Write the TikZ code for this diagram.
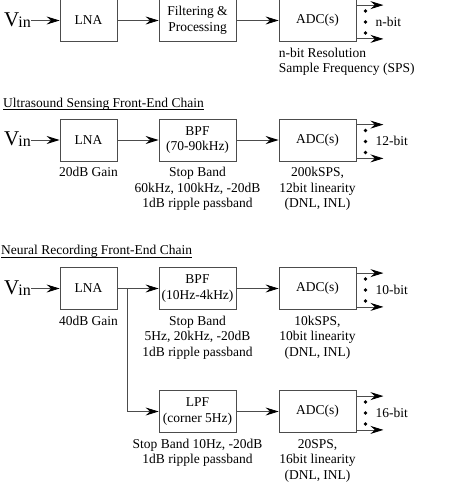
\documentclass[tikz,border=0pt]{standalone}
\usepackage{fontspec}
\setmainfont{Liberation Serif}
\usepackage{tikz}
\usetikzlibrary{arrows,arrows.meta,positioning}
\tikzstyle{blk}=[draw=black!70, line width=0.8pt, minimum width=57pt, minimum height=42pt, align=center, inner sep=1pt]
\tikzstyle{wideblk}=[blk, minimum width=77pt]
\tikzstyle{sig}=[draw=black!70, line width=0.8pt, -{Stealth[length=13pt,width=8pt,inset=4.5pt,black]}]
\tikzstyle{note}=[align=center, inner sep=0pt]
\tikzstyle{ttl}=[anchor=base west, inner sep=0pt]
\newcommand{\vinlabel}{{\fontsize{21}{21}\selectfont V}\kern-1pt\raisebox{-1pt}{\fontsize{16}{16}\selectfont in}}

\begin{document}
\begin{tikzpicture}[x=1pt,y=-1pt,font=\fontsize{13.5}{15.5}\selectfont]
	\useasboundingbox (0,0) rectangle (474,484);
	\node[blk] (lna1) at (88.5,20.5) {LNA};
	\node[wideblk] (flt1) at (197.5,20.5) {Filtering \&\\Processing};
	\node[wideblk] (adc1) at (317.5,20.5) {ADC(s)};
	\node[anchor=base east, inner sep=0pt] (vin1) at (31,27) {\vinlabel};
	\node[note, align=left, below right=6pt and 0pt of adc1.south west] (res1) {n-bit Resolution\\Sample Frequency (SPS)};
	\draw[sig] (vin1.east |- lna1) -- (lna1);
	\draw[sig] (lna1) -- (flt1);
	\draw[sig] (flt1) -- (adc1);

	\node[ttl] (ttl2) at (3,107) {Ultrasound Sensing Front-End Chain};
	\draw[line width=0.6pt] ([yshift=-2.5pt]ttl2.base west) -- ([yshift=-2.5pt]ttl2.base east);
	\node[blk] (lna2) at (88.5,140) {LNA};
	\node[wideblk] (bpf2) at (197.5,140) {BPF\\(70-90kHz)};
	\node[wideblk] (adc2) at (317.5,140) {ADC(s)};
	\node[anchor=base east, inner sep=0pt] (vin2) at (31,146) {\vinlabel};
	\node[note, below=6pt of lna2] (gain2) {20dB Gain};
	\node[note, below=6pt of bpf2] (stop2) {Stop Band\\60kHz, 100kHz, -20dB\\1dB ripple passband};
	\node[note, below=6pt of adc2] (spec2) {200kSPS,\\12bit linearity\\(DNL, INL)};
	\draw[sig] (vin2.east |- lna2) -- (lna2);
	\draw[sig] (lna2) -- (bpf2);
	\draw[sig] (bpf2) -- (adc2);

	\node[ttl] (ttl3) at (1,254.5) {Neural Recording Front-End Chain};
	\draw[line width=0.6pt] ([yshift=-2.5pt]ttl3.base west) -- ([yshift=-2.5pt]ttl3.base east);
	\node[blk] (lna3) at (88.5,288.5) {LNA};
	\node[wideblk] (bpf3) at (197.5,288.5) {BPF\\(10Hz-4kHz)};
	\node[wideblk] (adc3) at (317.5,288.5) {ADC(s)};
	\node[anchor=base east, inner sep=0pt] (vin3) at (31,294.5) {\vinlabel};
	\node[note, below=6pt of lna3] (gain3) {40dB Gain};
	\node[note, below=6pt of bpf3] (stop3) {Stop Band\\5Hz, 20kHz, -20dB\\1dB ripple passband};
	\node[note, below=6pt of adc3] (spec3) {10kSPS,\\10bit linearity\\(DNL, INL)};
	\draw[sig] (vin3.east |- lna3) -- (lna3);
	\draw[sig] (lna3) -- (bpf3);
	\draw[sig] (bpf3) -- (adc3);

	\coordinate (tap) at ([xshift=10pt]lna3.east);
	\node[wideblk] (lpf4) at (197.5,411.5) {LPF\\(corner 5Hz)};
	\node[wideblk] (adc4) at (317.5,411.5) {ADC(s)};
	\node[note, below=6pt of lpf4] (stop4) {Stop Band 10Hz, -20dB\\1dB ripple passband};
	\node[note, below=6pt of adc4] (spec4) {20SPS,\\16bit linearity\\(DNL, INL)};
	\draw[sig] (tap) |- (lpf4);
	\draw[sig] (lpf4) -- (adc4);

	\foreach \adc/\bits in {adc1/n,adc2/12,adc3/10,adc4/16}{
		\draw[sig] ([yshift=-6pt]\adc.north east) -- ++(27,0);
		\draw[sig] ([yshift=3pt]\adc.south east) -- ++(27,0);
		\foreach \dy in {9.5,-1.5,-12.5}
			\fill ([xshift=9pt,yshift=\dy pt]\adc.east) circle (1.9pt);
		\node[anchor=base west, inner sep=0pt] (\adc-out) at ([xshift=19pt,yshift=-6pt]\adc.east) {\bits-bit};
	}
\end{tikzpicture}
\end{document}
